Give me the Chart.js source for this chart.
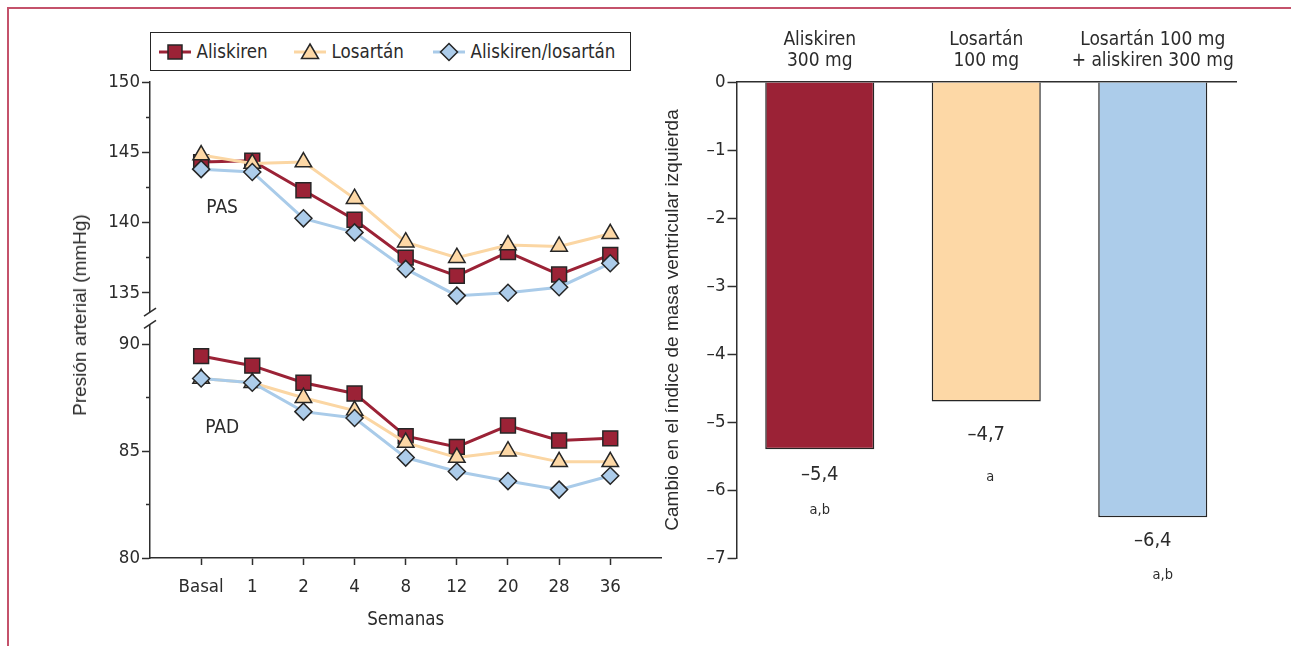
<!DOCTYPE html>
<html lang="es">
<head>
<meta charset="utf-8">
<title>Presión arterial e índice de masa ventricular izquierda</title>
<script src="https://cdn.jsdelivr.net/npm/chart.js@4.4.1/dist/chart.umd.min.js"></script>
<style>
  html, body { margin: 0; padding: 0; background: #fff; }
  body {
    position: relative; width: 1291px; height: 646px; overflow: hidden;
    font-family: "DejaVu Sans Condensed", "Liberation Sans Narrow", sans-serif; color: #2b2b2b;
  }
  #frame {
    position: absolute; left: 7px; top: 7px; width: 1300px; height: 660px;
    border-top: 2px solid #c4526b; border-left: 2px solid #c4526b;
  }
  #bpChart { position: absolute; left: 0; top: 0; }
  #lvChart { position: absolute; left: 640px; top: 0; }
  #bpTitle {
    position: absolute; left: 80px; top: 315px; white-space: nowrap;
    transform: translate(-50%, -50%) rotate(-90deg);
    font-family: "Liberation Sans", Arial, sans-serif; font-size: 19px;
  }
  #bpLegend {
    position: absolute; left: 150px; top: 32px; width: 479px; height: 37px;
    border: 1.5px solid #262626; background: #fff; font-size: 18.6px;
  }
  #bpLegend .item { position: absolute; top: 0; height: 37px; display: flex; align-items: center; white-space: nowrap; }
  #bpLegend svg { width: 32px; height: 22px; margin-right: 6px; }
</style>
</head>
<body>
<div id="frame"></div>
<canvas id="bpChart" width="680" height="646"></canvas>
<canvas id="lvChart" width="651" height="646"></canvas>
<div id="bpTitle">Presión arterial (mmHg)</div>
<div id="bpLegend"></div>

<script>
// ---- data -------------------------------------------------------------
const weeks = ['Basal', '1', '2', '4', '8', '12', '20', '28', '36'];

// presión arterial sistólica (PAS), mmHg
const pasAliskiren = [144.3, 144.4, 142.3, 140.2, 137.5, 136.2, 137.9, 136.3, 137.7];
const pasLosartan  = [144.8, 144.2, 144.3, 141.7, 138.6, 137.5, 138.4, 138.3, 139.2];
const pasCombo     = [143.8, 143.6, 140.3, 139.3, 136.7, 134.8, 135.0, 135.4, 137.1];

// presión arterial diastólica (PAD), mmHg
const padAliskiren = [89.45, 89.0, 88.2, 87.7, 85.7, 85.2, 86.2, 85.5, 85.6];
const padLosartan  = [88.4, 88.2, 87.5, 86.9, 85.4, 84.7, 85.0, 84.5, 84.5];
const padCombo     = [88.4, 88.2, 86.85, 86.55, 84.7, 84.05, 83.6, 83.2, 83.85];

const pasTicks = [135, 137.5, 140, 142.5, 145, 147.5, 150];
const padTicks = [80, 82.5, 85, 87.5, 90];

// cambio en el índice de masa ventricular izquierda
const treatments = [['Aliskiren', '300 mg'], ['Losartán', '100 mg'], ['Losartán 100 mg', '+ aliskiren 300 mg']];
const lvmiChange = [-5.4, -4.7, -6.4];
const significance = ['a,b', 'a', 'a,b'];
const lvmiTicks = [0, -1, -2, -3, -4, -5, -6, -7];

const seriesNames = ['Aliskiren', 'Losartán', 'Aliskiren/losartán'];

// ---- look -------------------------------------------------------------
const NARROW = "'DejaVu Sans Condensed', 'Liberation Sans Narrow', sans-serif";
const REGULAR = "'Liberation Sans', Arial, sans-serif";
const INK = '#2b2b2b';
const AXIS = '#2e2e2e';
const MARK_EDGE = '#262626';
const RED = '#9b2236';
const PEACH = '#fdd8a6';
const PEACH_LINE = '#fbd6a3';
const BLUE = '#acccea';
const BLUE_LINE = '#a9cbe9';

const seriesStyles = [
  { borderColor: RED, pointBackgroundColor: RED, pointStyle: 'rect', pointRadius: 10.5, order: 3 },
  { borderColor: PEACH_LINE, pointBackgroundColor: PEACH, pointStyle: 'triangle', pointRadius: 9.5, order: 2 },
  { borderColor: BLUE_LINE, pointBackgroundColor: BLUE, pointStyle: 'rectRot', pointRadius: 8.5, order: 1 },
];

const tickFont = { family: NARROW, size: 18.5 };
const minorDash = (c) => (c.tick && c.tick.value % 5 !== 0 ? [0, 4, 4, 40] : []);

function lineSet(label, values, axisId, style) {
  return Object.assign({
    label,
    data: values.map((v, i) => ({ x: i + 1, y: v })),
    yAxisID: axisId,
    borderWidth: 3,
    pointBorderColor: MARK_EDGE,
    pointBorderWidth: 1.5,
    pointHoverRadius: style.pointRadius,
    tension: 0,
    clip: false,
  }, style);
}

function valueAxis(ticks, min, max, stackWeight, weight) {
  return {
    type: 'linear', position: 'left', stack: 'bp', stackWeight, weight, min, max,
    afterBuildTicks: (s) => { s.ticks = ticks.map((v) => ({ value: v })); },
    afterFit: (s) => { s.width = 150; },
    ticks: { callback: (v) => (v % 5 === 0 ? String(v) : ''), font: tickFont, color: INK, padding: 2, autoSkip: false },
    grid: { drawOnChartArea: false, tickLength: 8, tickWidth: 1.5, tickColor: AXIS, tickBorderDash: minorDash },
    border: { color: AXIS, width: 1.5 },
  };
}

// axis break between the PAS and PAD panels
const axisBreak = {
  id: 'axisBreak',
  afterDraw(chart) {
    const top = chart.scales.yTop, bottom = chart.scales.yBottom;
    const x = top.right;
    const mid = (top.bottom + bottom.top) / 2;
    const { ctx } = chart;
    ctx.save();
    ctx.fillStyle = '#fff';
    ctx.fillRect(x - 3, mid - 6, 6, 12);
    ctx.strokeStyle = AXIS;
    ctx.lineWidth = 1.5;
    [mid - 6.2, mid + 6.2].forEach((y) => {
      ctx.beginPath();
      ctx.moveTo(x - 6, y + 4);
      ctx.lineTo(x + 6, y - 4);
      ctx.stroke();
    });
    ctx.restore();
  },
};

// panel names written inside the plot
const panelNames = {
  id: 'panelNames',
  afterDatasetsDraw(chart, args, opts) {
    const { ctx } = chart;
    ctx.save();
    ctx.font = `19px ${NARROW}`;
    ctx.fillStyle = INK;
    ctx.textAlign = 'center';
    ctx.textBaseline = 'middle';
    opts.items.forEach((it) => {
      ctx.fillText(it.text, chart.scales.x.getPixelForValue(it.x), chart.scales[it.axis].getPixelForValue(it.y));
    });
    ctx.restore();
  },
};

new Chart(document.getElementById('bpChart'), {
  type: 'line',
  data: {
    datasets: [
      lineSet(seriesNames[0], pasAliskiren, 'yTop', seriesStyles[0]),
      lineSet(seriesNames[1], pasLosartan, 'yTop', seriesStyles[1]),
      lineSet(seriesNames[2], pasCombo, 'yTop', seriesStyles[2]),
      lineSet(seriesNames[0], padAliskiren, 'yBottom', seriesStyles[0]),
      lineSet(seriesNames[1], padLosartan, 'yBottom', seriesStyles[1]),
      lineSet(seriesNames[2], padCombo, 'yBottom', seriesStyles[2]),
    ],
  },
  options: {
    responsive: false,
    animation: false,
    events: [],
    layout: { padding: { top: 82, right: 18.6, bottom: 0, left: 0 } },
    scales: {
      x: {
        type: 'linear', position: 'bottom', min: 0, max: weeks.length + 1,
        afterBuildTicks: (s) => { s.ticks = weeks.map((_, i) => ({ value: i + 1 })); },
        afterFit: (s) => { s.height = 88; },
        ticks: { callback: (v) => weeks[Math.round(v) - 1] || '', font: tickFont, color: INK, padding: 11, autoSkip: false, maxRotation: 0 },
        grid: { drawOnChartArea: false, tickLength: 7, tickWidth: 1.5, tickColor: AXIS },
        border: { color: AXIS, width: 1.5 },
        title: { display: true, text: 'Semanas', font: { family: NARROW, size: 18.6 }, color: INK, padding: { top: 0, bottom: 14.8 } },
      },
      yTop: valueAxis(pasTicks, 133.19, 150, 236.5, 2),
      yBottom: valueAxis(padTicks, 80, 91.22, 240, 1),
    },
    plugins: {
      legend: { display: false },
      tooltip: { enabled: false },
      panelNames: { items: [
        { text: 'PAS', axis: 'yTop', x: 1.41, y: 141.0 },
        { text: 'PAD', axis: 'yBottom', x: 1.41, y: 86.1 },
      ] },
    },
  },
  plugins: [axisBreak, panelNames],
});

// legend with line + marker swatches
const swatchShapes = [
  '<rect x="9" y="4" width="14" height="14"/>',
  '<polygon points="16,3 24.5,17.5 7.5,17.5"/>',
  '<polygon points="16,2.5 24.5,11 16,19.5 7.5,11"/>',
];
const legendSlots = [7.5, 142.5, 281.5];
document.getElementById('bpLegend').innerHTML = seriesNames.map((name, i) => {
  const st = seriesStyles[i];
  return `<div class="item" style="left:${legendSlots[i]}px"><svg viewBox="0 0 32 22"><line x1="0" y1="11" x2="32" y2="11" stroke="${st.borderColor}" stroke-width="3"/>` +
    `<g fill="${st.pointBackgroundColor}" stroke="${MARK_EDGE}" stroke-width="1.5">${swatchShapes[i]}</g></svg><span>${name}</span></div>`;
}).join('');

// ---- bar panel ---------------------------------------------------------
const formatChange = (v) => (v < 0 ? '–' : '') + Math.abs(v).toFixed(1).replace('.', ',');

// value and significance letters under each bar end
const barNotes = {
  id: 'barNotes',
  afterDatasetsDraw(chart, args, opts) {
    const { ctx } = chart;
    const meta = chart.getDatasetMeta(0);
    ctx.save();
    ctx.fillStyle = INK;
    ctx.textAlign = 'center';
    ctx.textBaseline = 'middle';
    meta.data.forEach((bar, i) => {
      ctx.font = `20px ${NARROW}`;
      ctx.fillText(formatChange(lvmiChange[i]), bar.x, bar.y + opts.valueGap[i]);
      ctx.font = `14.5px ${NARROW}`;
      ctx.fillText(significance[i], bar.x + opts.noteShift[i], bar.y + opts.noteGap[i]);
    });
    ctx.restore();
  },
};

new Chart(document.getElementById('lvChart'), {
  type: 'bar',
  data: {
    labels: treatments,
    datasets: [{
      data: lvmiChange,
      backgroundColor: [RED, PEACH, BLUE],
      borderColor: MARK_EDGE,
      borderWidth: 1.5,
      borderSkipped: 'start',
      barPercentage: 0.655,
      categoryPercentage: 1,
    }],
  },
  options: {
    responsive: false,
    animation: false,
    events: [],
    layout: { padding: { top: 0, right: 55, bottom: 88, left: 0 } },
    scales: {
      x: {
        position: 'top',
        afterFit: (s) => { s.height = 82; },
        ticks: { font: { family: NARROW, size: 19, lineHeight: 1.105 }, color: INK, padding: 10.4, maxRotation: 0, autoSkip: false },
        grid: { display: true, drawOnChartArea: false, drawTicks: false },
        border: { color: AXIS, width: 1.5 },
      },
      y: {
        min: -7, max: 0,
        afterBuildTicks: (s) => { s.ticks = lvmiTicks.map((v) => ({ value: v })); },
        afterFit: (s) => { s.width = 96.5; },
        ticks: { callback: (v) => (v === 0 ? '0' : formatChange(v).replace(',0', '')), font: tickFont, color: INK, padding: 2, autoSkip: false },
        grid: { drawOnChartArea: false, tickLength: 9, tickWidth: 1.5, tickColor: AXIS },
        border: { color: AXIS, width: 1.5 },
        title: {
          display: true,
          text: 'Cambio en el índice de masa ventricular izquierda',
          font: { family: REGULAR, size: 19 },
          color: INK,
          padding: { top: 21.6, bottom: 0 },
        },
      },
    },
    plugins: {
      legend: { display: false },
      tooltip: { enabled: false },
      barNotes: { valueGap: [26, 33, 24], noteGap: [61, 76, 58], noteShift: [0, 4, 10] },
    },
  },
  plugins: [barNotes],
});
</script>
</body>
</html>
